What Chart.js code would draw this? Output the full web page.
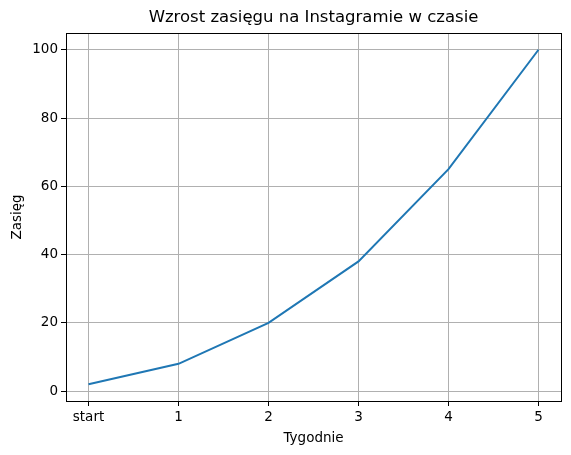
<!DOCTYPE html>
<html>
<head>
<meta charset="utf-8">
<script src="https://cdn.jsdelivr.net/npm/chart.js@4"></script>
<style>
  html, body { margin: 0; padding: 0; background: #fff; }
</style>
</head>
<body>
<canvas id="reachChart" width="571" height="455"></canvas>
<script>
// data
const weeks = ['start', '1', '2', '3', '4', '5'];
const reach = [2, 8, 20, 38, 65, 100];
const yTicks = [0, 20, 40, 60, 80, 100];

const FONT = 'DejaVu Sans';

// frame round the plot area + title, like matplotlib
const framePlugin = {
  id: 'frame',
  afterDraw(chart) {
    const { ctx, chartArea: a } = chart;
    ctx.save();
    ctx.strokeStyle = '#000';
    ctx.lineWidth = 1;
    ctx.strokeRect(Math.round(a.left) + 0.5, Math.round(a.top) + 0.5,
      Math.round(a.right - a.left), Math.round(a.bottom - a.top));
    ctx.fillStyle = '#000';
    ctx.font = '16.5px "' + FONT + '"';
    ctx.textAlign = 'center';
    ctx.textBaseline = 'middle';
    ctx.fillText('Wzrost zasięgu na Instagramie w czasie', (a.left + a.right) / 2, 18);
    ctx.restore();
  }
};

const ctx = document.getElementById('reachChart').getContext('2d');

const reachChart = new Chart(ctx, {
  type: 'line',
  data: {
    datasets: [{
      data: reach.map((v, i) => ({ x: i, y: v })),
      borderColor: '#1f77b4',
      borderWidth: 2,
      pointRadius: 0,
      tension: 0,
      fill: false
    }]
  },
  options: {
    responsive: false,
    animation: false,
    layout: { padding: { top: 33, right: 10, left: 0, bottom: 0 } },
    plugins: { legend: { display: false }, tooltip: { enabled: false } },
    scales: {
      x: {
        type: 'linear',
        min: -0.25,
        max: weeks.length - 0.75,
        afterBuildTicks: (s) => { s.ticks = weeks.map((_, i) => ({ value: i })); },
        afterFit: (s) => { s.height = 54; },
        ticks: {
          color: '#000',
          font: { family: FONT, size: 13.5 },
          padding: 3,
          maxRotation: 0,
          callback: (v) => weeks[v]
        },
        grid: { color: '#b0b0b0', tickColor: '#000', tickLength: 5, lineWidth: 1 },
        border: { display: false },
        title: {
          display: true,
          text: 'Tygodnie',
          color: '#000',
          font: { family: FONT, size: 13.5 },
          padding: { top: 2, bottom: 8 }
        }
      },
      y: {
        min: -2.9,
        max: 104.9,
        afterBuildTicks: (s) => { s.ticks = yTicks.map(v => ({ value: v })); },
        afterFit: (s) => { s.width = 66; },
        ticks: {
          color: '#000',
          font: { family: FONT, size: 13.5 },
          padding: 3
        },
        grid: { color: '#b0b0b0', tickColor: '#000', tickLength: 5, lineWidth: 1 },
        border: { display: false },
        title: {
          display: true,
          text: 'Zasięg',
          color: '#000',
          font: { family: FONT, size: 13.5 },
          padding: { top: 9, bottom: 0 }
        }
      }
    }
  },
  plugins: [framePlugin]
});
</script>
</body>
</html>
